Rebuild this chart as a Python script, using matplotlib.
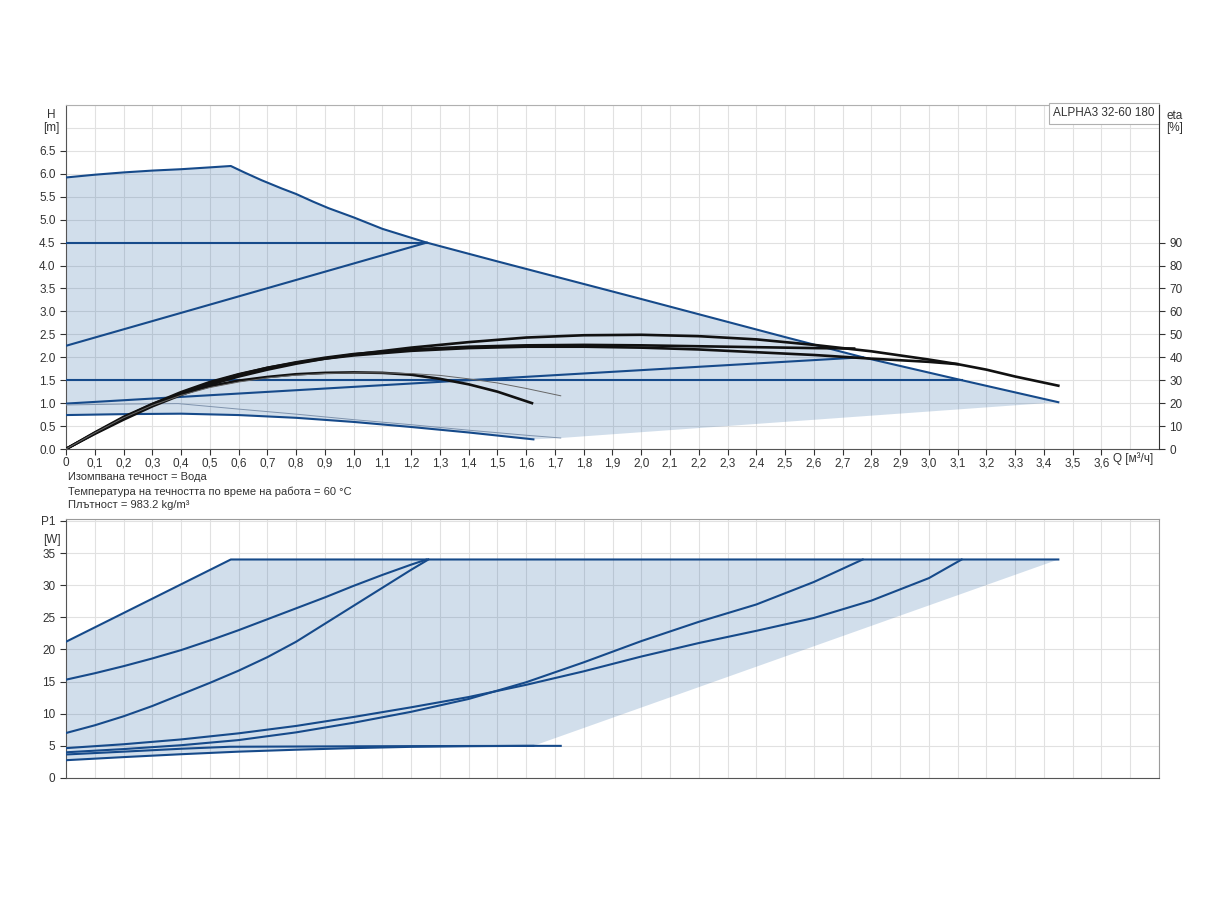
import numpy as np
import matplotlib
matplotlib.use("Agg")
import matplotlib.pyplot as plt

plt.rcParams['font.family'] = ['Liberation Sans', 'DejaVu Sans']

# --- head curves, H [m] vs Q [m3/h] ---
maxQ = [0, 0.1, 0.2, 0.3, 0.4, 0.5, 0.573, 0.62, 0.68, 0.75, 0.8, 0.86, 0.913, 1.0, 1.1, 1.254, 1.5, 2.0, 2.5, 2.77, 3.114, 3.45]
maxH = [5.92, 5.98, 6.03, 6.07, 6.1, 6.14, 6.17, 6.03, 5.86, 5.68, 5.56, 5.39, 5.25, 5.05, 4.8, 4.5, 4.09, 3.27, 2.44, 2.0, 1.5, 1.02]
cp45Q = [0, 1.254]
cp45H = [4.5, 4.5]
cp15Q = [0, 3.114]
cp15H = [1.5, 1.5]
ppHighQ = [0, 1.254]
ppHighH = [2.25, 4.5]
ppLowQ = [0, 2.77]
ppLowH = [0.99, 2.0]
minQ = [0, 0.2, 0.4, 0.6, 0.8, 1.0, 1.2, 1.4, 1.625]
minH = [0.74, 0.76, 0.77, 0.74, 0.68, 0.59, 0.48, 0.36, 0.21]
thinQ = [0, 0.2, 0.39, 0.6, 0.8, 1.0, 1.2, 1.4, 1.6, 1.72]
thinH = [0.96, 0.98, 0.99, 0.87, 0.76, 0.64, 0.53, 0.41, 0.3, 0.24]
shadeLowQ = [3.45, 1.72, 1.625]
shadeLowH = [1.02, 0.24, 0.21]

# --- efficiency curves, eta [%] ---
e1Q = [0, 0.1, 0.2, 0.3, 0.4, 0.5, 0.6, 0.7, 0.8, 0.9, 1.0, 1.1, 1.2, 1.3, 1.4, 1.5, 1.62]
e1 = [0, 7.2, 14, 19.6, 24, 27.4, 29.8, 31.4, 32.6, 33.2, 33.4, 33.2, 32.4, 30.6, 28.2, 25, 20]
egQ = [0, 0.1, 0.2, 0.3, 0.4, 0.5, 0.6, 0.7, 0.8, 0.9, 1.0, 1.1, 1.2, 1.3, 1.4, 1.5, 1.6, 1.72]
eg = [0, 7, 13.6, 19, 23.4, 26.8, 29.2, 31, 32.2, 32.9, 33.2, 33.2, 32.9, 32.1, 30.6, 28.8, 26.4, 23.2]
e2Q = [0, 0.1, 0.2, 0.3, 0.4, 0.5, 0.6, 0.7, 0.8, 0.9, 1.0, 1.2, 1.4, 1.6, 1.8, 2.0, 2.2, 2.4, 2.6, 2.74]
e2 = [0, 6.8, 13.2, 19.2, 24.4, 28.8, 32.4, 35.4, 37.8, 39.8, 41.4, 43.4, 44.6, 45.2, 45.4, 45.2, 44.8, 44.4, 44, 43.8]
e3Q = [0, 0.1, 0.2, 0.3, 0.4, 0.5, 0.6, 0.7, 0.8, 0.9, 1.0, 1.2, 1.4, 1.6, 1.8, 2.0, 2.2, 2.4, 2.6, 2.8, 3.0, 3.1]
e3 = [0, 7, 13.6, 19.6, 24.8, 29.2, 32.6, 35.4, 37.6, 39.4, 40.8, 42.8, 44, 44.6, 44.6, 44.2, 43.4, 42.2, 41, 39.4, 38, 37]
e4Q = [0, 0.1, 0.2, 0.3, 0.4, 0.5, 0.6, 0.7, 0.8, 0.9, 1.0, 1.2, 1.4, 1.6, 1.8, 2.0, 2.2, 2.4, 2.6, 2.8, 3.0, 3.1, 3.2, 3.3, 3.45]
e4 = [0, 6.6, 12.8, 18.6, 23.6, 28, 31.6, 34.6, 37.2, 39.4, 41.2, 44.2, 46.6, 48.6, 49.6, 49.8, 49.2, 47.8, 45.4, 42.6, 39, 37, 34.6, 31.6, 27.6]

# --- power curves, P1 [W] ---
pMaxQ = [0, 0.573, 3.45]
pMax = [21.2, 34.0, 34.0]
p2Q = [0, 0.1, 0.2, 0.3, 0.4, 0.5, 0.6, 0.7, 0.8, 0.9, 1.0, 1.1, 1.2, 1.254]
p2 = [15.3, 16.3, 17.4, 18.6, 19.9, 21.4, 23.0, 24.7, 26.4, 28.1, 29.9, 31.6, 33.2, 34.0]
p3Q = [0, 0.1, 0.2, 0.3, 0.4, 0.5, 0.6, 0.7, 0.8, 0.9, 1.0, 1.1, 1.2, 1.26]
p3 = [7.0, 8.2, 9.6, 11.2, 13.0, 14.8, 16.7, 18.8, 21.2, 24.0, 26.8, 29.6, 32.4, 34.0]
p4Q = [0, 0.2, 0.4, 0.6, 0.8, 1.0, 1.2, 1.4, 1.6, 1.8, 2.0, 2.2, 2.4, 2.6, 2.8, 3.0, 3.114]
p4 = [4.65, 5.25, 6.0, 6.95, 8.1, 9.5, 11.0, 12.6, 14.5, 16.6, 18.9, 21.0, 22.9, 24.9, 27.6, 31.1, 34.0]
p5Q = [0, 0.2, 0.4, 0.6, 0.8, 1.0, 1.2, 1.4, 1.6, 1.8, 2.0, 2.2, 2.4, 2.6, 2.77]
p5 = [4.0, 4.5, 5.1, 5.9, 7.1, 8.6, 10.3, 12.3, 14.9, 18.0, 21.3, 24.3, 27.0, 30.5, 34.0]
p6Q = [0, 0.2, 0.4, 0.57, 0.8, 1.0, 1.2, 1.4, 1.625]
p6 = [3.66, 4.1, 4.55, 4.86, 4.9, 4.93, 4.96, 4.98, 5.0]
p7Q = [0, 0.2, 0.4, 0.6, 0.8, 1.0, 1.2, 1.4, 1.6, 1.72]
p7 = [2.77, 3.25, 3.7, 4.1, 4.4, 4.65, 4.85, 4.95, 5.0, 5.0]

xticks = np.round(np.arange(0, 3.61, 0.1), 1)
xlabels = ['0'] + [('%.1f' % v).replace('.', ',') for v in xticks[1:]]

blue = '#164a8a'
fill = (0.11, 0.36, 0.62, 0.2)
grid = '#e1e1e1'
txt = '#333333'
fs = 8

fig = plt.figure(figsize=(12.24, 9), dpi=100)
ax = fig.add_axes([66 / 1224, 1 - 449 / 900, 1093 / 1224, 344 / 900])
ax.set_xlim(0, 3.8)
ax.set_ylim(0, 7.5)
ax.set_axisbelow(True)
for v in np.arange(0, 3.81, 0.1):
    ax.axvline(v, color=grid, lw=0.8, zorder=0)
for v in np.arange(0, 7.51, 0.5):
    ax.axhline(v, color=grid, lw=0.8, zorder=0)

# shaded operating area
polyQ = maxQ + shadeLowQ + minQ[::-1]
polyH = maxH + shadeLowH + minH[::-1]
ax.fill(polyQ, polyH, color=fill, lw=0, zorder=1)

for q, h in [(maxQ, maxH), (cp45Q, cp45H), (cp15Q, cp15H), (ppHighQ, ppHighH),
             (ppLowQ, ppLowH), (minQ, minH)]:
    ax.plot(q, h, color=blue, lw=1.5, zorder=3)
ax.plot(thinQ, thinH, color='#7f93ad', lw=0.7, zorder=3)

ax.set_xticks(xticks)
ax.set_xticklabels(xlabels)
ax.set_yticks(np.arange(0, 6.51, 0.5))
ax.set_yticklabels(['%.1f' % v for v in np.arange(0, 6.51, 0.5)])
ax.tick_params(colors=txt, labelsize=fs + 0.5, length=4, width=0.8)
ax.tick_params(axis='x', pad=2)
for s in ['left', 'bottom']:
    ax.spines[s].set_color('#555555')
ax.spines['top'].set_color('#b0b0b0')
ax.spines['right'].set_visible(False)
ax.text(3.71, -0.06, 'Q [м³/ч]', ha='center', va='top', fontsize=fs + 0.5, color=txt)
ax.text(-0.05, 7.42, 'H\n[m]', ha='center', va='top', fontsize=fs + 0.5, color=txt, linespacing=1.1)
ax.text(0.996, 0.993, 'ALPHA3 32-60 180', transform=ax.transAxes, ha='right', va='top',
        fontsize=fs + 0.5, color=txt,
        bbox=dict(boxstyle='square,pad=0.35', fc='white', ec='#b0b0b0', lw=0.8))

axe = ax.twinx()
axe.set_ylim(0, 150)
axe.set_yticks(np.arange(0, 91, 10))
axe.tick_params(colors=txt, labelsize=fs + 0.5, length=4, width=0.8)
axe.spines['right'].set_color('#333333')
axe.spines['top'].set_visible(False)
axe.spines['left'].set_visible(False)
axe.spines['bottom'].set_visible(False)
for q, e in [(e1Q, e1), (e2Q, e2), (e3Q, e3), (e4Q, e4)]:
    axe.plot(q, e, color='#111111', lw=1.9, zorder=4)
axe.plot(egQ, eg, color='#666666', lw=0.7, zorder=4)
axe.text(3.855, 148, 'eta\n[%]', ha='center', va='top', fontsize=fs + 0.5, color=txt, linespacing=1.1)

fig.text(68 / 1224, 1 - 477 / 900, 'Изомпвана течност = Вода', fontsize=fs, color=txt, va='center')
fig.text(68 / 1224, 1 - 492 / 900, 'Температура на течността по време на работа = 60 °C', fontsize=fs, color=txt, va='center')
fig.text(68 / 1224, 1 - 505 / 900, 'Плътност = 983.2 kg/m³', fontsize=fs, color=txt, va='center')

# --- power panel ---
bx = fig.add_axes([66 / 1224, 1 - 778 / 900, 1093 / 1224, (778 - 519) / 900])
bx.set_xlim(0, 3.8)
bx.set_ylim(0, 40.3)
for v in np.arange(0, 3.81, 0.1):
    bx.axvline(v, color=grid, lw=0.8, zorder=0)
for v in np.arange(0, 40.1, 5):
    bx.axhline(v, color=grid, lw=0.8, zorder=0)
bpolyQ = pMaxQ + [1.625] + p7Q[:-1][::-1]
bpoly = pMax + [5.0] + p7[:-1][::-1]
bx.fill(bpolyQ, bpoly, color=fill, lw=0, zorder=1)
for q, p in [(pMaxQ, pMax), (p2Q, p2), (p3Q, p3), (p4Q, p4), (p5Q, p5), (p6Q, p6), (p7Q, p7)]:
    bx.plot(q, p, color=blue, lw=1.5, zorder=3)
bx.set_xticks(xticks)
bx.set_xticklabels([])
bx.tick_params(axis='x', length=0)
bx.set_yticks(np.arange(0, 40.1, 5))
bx.set_yticklabels([str(v) for v in range(0, 36, 5)] + ['P1'])
bx.tick_params(axis='y', colors=txt, labelsize=fs + 0.5, length=4, width=0.8)
for s in ['left', 'bottom']:
    bx.spines[s].set_color('#555555')
for s in ['top', 'right']:
    bx.spines[s].set_color('#9a9a9a')
bx.text(-0.05, 38.0, '[W]', ha='center', va='top', fontsize=fs + 0.5, color=txt)

fig.savefig('out.png', dpi=100)
